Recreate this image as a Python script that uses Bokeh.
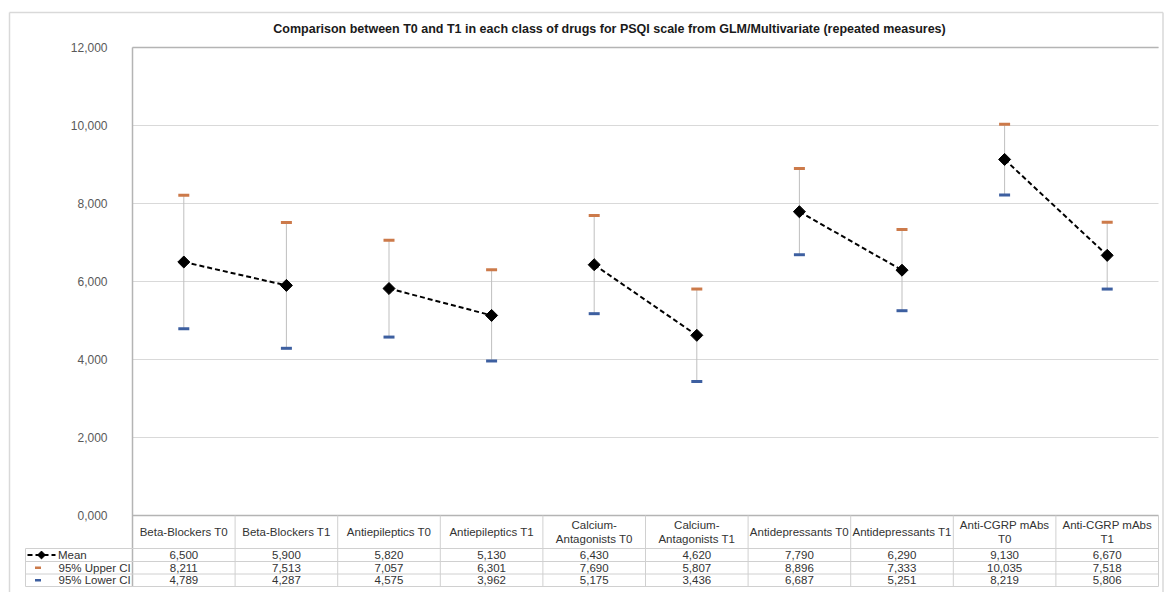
import numpy as np
from bokeh.plotting import figure
from bokeh.models import Range1d
from bokeh.core.properties import value
from bokeh.embed import file_html
from bokeh.resources import INLINE

# ---------------- data ----------------
categories = ["Beta-Blockers T0", "Beta-Blockers T1", "Antiepileptics T0", "Antiepileptics T1",
              "Calcium-\nAntagonists T0", "Calcium-\nAntagonists T1", "Antidepressants T0",
              "Antidepressants T1", "Anti-CGRP mAbs\nT0", "Anti-CGRP mAbs\nT1"]
mean = [6.500, 5.900, 5.820, 5.130, 6.430, 4.620, 7.790, 6.290, 9.130, 6.670]
upper_ci = [8.211, 7.513, 7.057, 6.301, 7.690, 5.807, 8.896, 7.333, 10.035, 7.518]
lower_ci = [4.789, 4.287, 4.575, 3.962, 5.175, 3.436, 6.687, 5.251, 8.219, 5.806]
y_ticks = [0, 2, 4, 6, 8, 10, 12]
row_names = ["Mean", "95% Upper CI", "95% Lower CI"]
title = "Comparison between T0 and T1 in each class of drugs for PSQI scale from GLM/Multivariate (repeated measures)"

# ---------------- layout (page pixels -> data units) ----------------
X0, XS = 132.0, 102.6   # page x of category edge 0, px per category
Y0, YS = 515.0, 39.0    # page y of value 0, px per unit


def dx(px):
    return (px - X0) / XS


def dy(py):
    return (Y0 - py) / YS


def fmt(v):
    return f"{v:.3f}".replace(".", ",")


FONT = value("Liberation Sans")
TS = value("11.5px")
n = len(categories)
xc = [i + 0.5 for i in range(n)]

p = figure(width=1164, height=592, output_backend="svg", toolbar_location=None,
           x_range=Range1d(dx(0), dx(1164)), y_range=Range1d(dy(592), dy(0)),
           x_axis_location=None, y_axis_location=None, min_border=0)
p.outline_line_color = None
p.grid.visible = False
p.background_fill_color = "white"

# outer chart border
p.segment(x0=[dx(9), dx(9), dx(1162.5)], y0=[dy(12), dy(12), dy(12)],
          x1=[dx(1162.5), dx(9), dx(1162.5)], y1=[dy(12), dy(592), dy(592)],
          line_color="#d9d9d9", line_width=1.5)

# gridlines
p.segment(x0=[0] * len(y_ticks), y0=y_ticks, x1=[n] * len(y_ticks), y1=y_ticks,
          line_color="#d9d9d9", line_width=1)
# plot area top border & axis lines
p.segment(x0=[0], y0=[max(y_ticks)], x1=[n], y1=[max(y_ticks)], line_color="#b4b4b4", line_width=1.5)
p.segment(x0=[0], y0=[0], x1=[n], y1=[0], line_color="#b4b4b4", line_width=1.5)
p.segment(x0=[0], y0=[max(y_ticks)], x1=[0], y1=[dy(586)], line_color="#b4b4b4", line_width=1.5)

# y tick labels
p.text(x=[dx(107)] * len(y_ticks), y=y_ticks, text=[fmt(t) for t in y_ticks],
       text_font=FONT, text_font_size=value("12px"), text_align="right",
       text_baseline="middle", text_color="#595959")

# title
p.text(x=[dx(609)], y=[dy(28)], text=[title], text_font=FONT, text_font_size=value("12.5px"),
       text_font_style="bold", text_align="center", text_baseline="middle", text_color="#1a1a1a")

# error bars
p.segment(x0=xc, y0=lower_ci, x1=xc, y1=upper_ci, line_color="#bfbfbf", line_width=1)
p.rect(x=xc, y=upper_ci, width=11, height=3, width_units="screen", height_units="screen",
       fill_color="#cc7a4a", line_color=None)
p.rect(x=xc, y=lower_ci, width=11, height=3, width_units="screen", height_units="screen",
       fill_color="#3d5fa0", line_color=None)

# dashed connections T0 -> T1
p.segment(x0=xc[0::2], y0=mean[0::2], x1=xc[1::2], y1=mean[1::2],
          line_color="black", line_width=2, line_dash="5 3")
p.scatter(x=xc, y=mean, marker="square", angle=np.pi / 4, size=8.5,
          fill_color="black", line_color="black")

# ---------------- data table ----------------
row_lines = [548, 561, 573.5, 586]
row_mid = [554.5, 567.25, 579.75]
p.segment(x0=[dx(25)] * len(row_lines), y0=[dy(r) for r in row_lines],
          x1=[n] * len(row_lines), y1=[dy(r) for r in row_lines], line_color="#d0d0d0", line_width=1)
p.segment(x0=list(range(1, n + 1)), y0=[0] * n, x1=list(range(1, n + 1)), y1=[dy(586)] * n,
          line_color="#d0d0d0", line_width=1)
p.segment(x0=[dx(25)], y0=[dy(548)], x1=[dx(25)], y1=[dy(586)], line_color="#d0d0d0", line_width=1)

# header
p.text(x=xc, y=[dy(531.5)] * n, text=categories, text_font=FONT, text_font_size=TS,
       text_align="center", text_baseline="middle", text_color="#333333", text_line_height=1.15)

for vals, ym in zip([mean, upper_ci, lower_ci], row_mid):
    p.text(x=xc, y=[dy(ym)] * n, text=[fmt(v) for v in vals], text_font=FONT,
           text_font_size=TS, text_align="center", text_baseline="middle",
           text_color="#333333")

# row names and legend keys
p.text(x=[dx(57.5), dx(58), dx(58)], y=[dy(m) for m in row_mid], text=row_names, text_font=FONT,
       text_font_size=TS, text_align="left", text_baseline="middle", text_color="#333333")
p.segment(x0=[dx(27)], y0=[dy(row_mid[0])], x1=[dx(55)], y1=[dy(row_mid[0])],
          line_color="black", line_width=2, line_dash="5 3")
p.scatter(x=[dx(41)], y=[dy(row_mid[0])], marker="square", angle=np.pi / 4, size=5.5,
          fill_color="black", line_color="black")
p.rect(x=[dx(37.5)], y=[dy(row_mid[1])], width=6, height=2.5, width_units="screen",
       height_units="screen", fill_color="#cc7a4a", line_color=None)
p.rect(x=[dx(37.5)], y=[dy(row_mid[2])], width=6, height=2.5, width_units="screen",
       height_units="screen", fill_color="#3d5fa0", line_color=None)

open("out.html", "w").write(file_html(p, INLINE))
